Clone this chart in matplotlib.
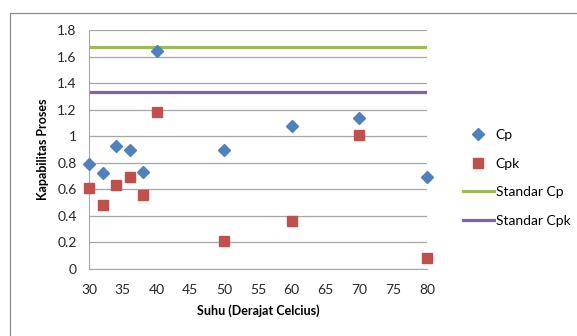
import matplotlib
matplotlib.use("Agg")
from matplotlib import pyplot as plt
from matplotlib.lines import Line2D

plt.rcParams['font.family'] = ['Lato', 'DejaVu Sans']

# data
suhu = [30, 32, 34, 36, 38, 40, 50, 60, 70, 80]
cp = [0.79, 0.72, 0.93, 0.90, 0.73, 1.64, 0.90, 1.08, 1.14, 0.69]
cpk = [0.61, 0.48, 0.63, 0.69, 0.56, 1.18, 0.21, 0.36, 1.01, 0.08]
std_x = [30, 80]
std_cp = [1.67, 1.67]
std_cpk = [1.33, 1.33]

fig = plt.figure(figsize=(5.77, 3.36), dpi=100)
ax = fig.add_axes([89/577, 1 - 269/336, (427 - 89)/577, (269 - 30)/336])

ax.plot(std_x, std_cp, color='#9BBB59', lw=2.3, label='Standar Cp', zorder=2)
ax.plot(std_x, std_cpk, color='#8064A2', lw=2.3, label='Standar Cpk', zorder=2)
ax.plot(suhu, cp, 'D', color='#4F81BD', ms=6, mec='#4F81BD', label='Cp', zorder=3, clip_on=False)
ax.plot(suhu, cpk, 's', color='#C0504D', ms=7, mec='#C0504D', label='Cpk', zorder=3, clip_on=False)

ax.set_xlim(30, 80)
ax.set_ylim(0, 1.8)
ax.set_xticks(range(30, 81, 5))
ax.set_yticks([0, 0.2, 0.4, 0.6, 0.8, 1, 1.2, 1.4, 1.6, 1.8])
ax.set_yticklabels(['0', '0.2', '0.4', '0.6', '0.8', '1', '1.2', '1.4', '1.6', '1.8'])
ax.grid(axis='y', color='#A6A6A6', lw=0.9)
ax.set_axisbelow(True)
for s in ['top', 'right']:
    ax.spines[s].set_visible(False)
for s in ['left', 'bottom']:
    ax.spines[s].set_color('#A6A6A6')
ax.tick_params(length=0, labelsize=10, colors='#262626')
ax.tick_params(axis='x', pad=11)
ax.tick_params(axis='y', pad=9)
ax.set_xlabel('Suhu (Derajat Celcius)', fontsize=9, fontweight='bold', labelpad=6)
ax.set_ylabel('Kapabilitas Proses', fontsize=9, fontweight='bold', labelpad=6)

handles = [
    Line2D([], [], ls='none', marker='D', color='#4F81BD', ms=6),
    Line2D([], [], ls='none', marker='s', color='#C0504D', ms=7),
    Line2D([], [], color='#9BBB59', lw=2.3),
    Line2D([], [], color='#8064A2', lw=2.3),
]
fig.legend(handles, ['Cp', 'Cpk', 'Standar Cp', 'Standar Cpk'],
           loc='center left', bbox_to_anchor=(450/577, 1 - 178/336),
           frameon=False, fontsize=10, handlelength=2.3, handletextpad=0.1,
           labelspacing=1.2)

# outer chart frame (left and top edges)
fig.add_artist(Line2D([10/577, 10/577], [0, 1 - 13/336], color='#8C8C8C', lw=0.9))
fig.add_artist(Line2D([10/577, 1], [1 - 13/336, 1 - 13/336], color='#8C8C8C', lw=0.9))

fig.savefig('out.png', dpi=100)
